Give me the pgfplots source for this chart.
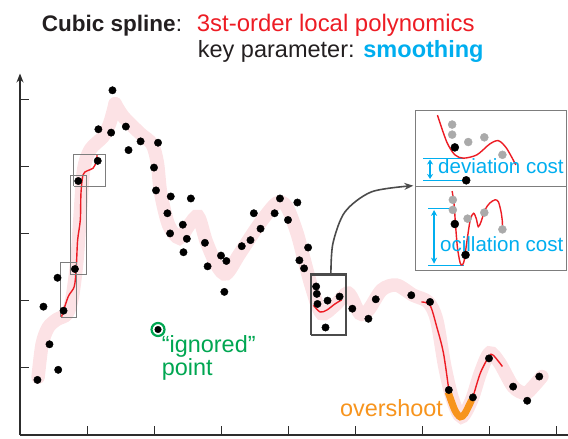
\documentclass[border=0pt]{standalone}
\usepackage{fontspec}
\setmainfont{Liberation Sans}
\usepackage{pgfplots}
\pgfplotsset{compat=1.18}
\usetikzlibrary{arrows.meta}
\definecolor{bandpink}{RGB}{252,226,229}
\definecolor{sred}{RGB}{237,28,36}
\definecolor{scyan}{RGB}{0,174,239}
\definecolor{sorange}{RGB}{247,148,29}
\definecolor{sgreen}{RGB}{0,166,81}
\definecolor{sgray}{RGB}{170,170,170}
\definecolor{axgray}{RGB}{45,45,45}
\definecolor{boxgray}{RGB}{125,125,125}
\definecolor{darkbox}{RGB}{75,75,75}
\definecolor{txtdark}{RGB}{35,31,32}
\begin{document}
\begin{tikzpicture}
\begin{axis}[at={(20bp,4bp)}, anchor=south west, scale only axis,
  width=548.06bp, height=361.5bp,
  xmin=0, xmax=8.18, ymin=0, ymax=5.38,
  axis x line=bottom, axis y line=left,
  axis line style={axgray, line width=1.2bp},
  x axis line style={-},
  y axis line style={-{Stealth[length=9bp,width=7bp]}},
  xtick={1,...,8}, ytick={1,...,5},
  xticklabels={}, yticklabels={},
  tick align=inside, major tick length=8.5bp,
  tick style={axgray, line width=1bp},
  clip=false]
% pink smoothing band (two smooth pieces meeting at the peak)
\addplot[bandpink, line width=13.5bp, smooth, tension=0.5, line cap=round] coordinates {
(0.27,0.86) (0.33,1.35) (0.42,1.60) (0.55,1.72) (0.70,1.80) (0.78,2.05) (0.85,2.60)
(0.90,3.30) (0.95,3.95) (1.05,4.25) (1.24,4.44) (1.34,4.64) (1.42,4.93)};
\addplot[bandpink, line width=13.5bp, smooth, tension=0.5, line cap=round] coordinates {
(1.42,4.93) (1.54,4.74) (1.79,4.49) (1.97,4.33) (2.05,4.05) (2.10,3.60) (2.22,3.12)
(2.38,2.93) (2.52,3.12)
(2.66,3.25) (2.78,2.88) (2.94,2.52) (3.08,2.40) (3.28,2.70) (3.58,3.15) (3.83,3.45)
(3.98,3.40) (4.13,3.02) (4.23,2.65) (4.35,2.21) (4.50,1.81) (4.70,1.93) (4.90,2.11)
(5.07,1.81) (5.20,1.86) (5.40,2.16) (5.62,2.23) (5.87,2.08) (6.09,1.98) (6.22,1.71)
(6.34,1.02) (6.46,0.52) (6.59,0.27) (6.74,0.52) (6.87,0.92) (7.01,1.22) (7.16,1.07)
(7.36,0.72) (7.54,0.62) (7.66,0.72) (7.79,0.87)};
% left red local fits
\addplot[sred, line width=1.4bp, smooth] coordinates {
(0.62,1.76) (0.72,2.06) (0.81,2.21) (0.84,2.50) (0.86,2.90) (0.90,3.20) (0.91,3.60)
(0.94,3.87) (1.00,3.93) (1.09,3.97) (1.14,4.07) (1.15,4.17)};
% left boxes
\addplot[boxgray, line width=0.9bp] coordinates {(0.61,1.75) (0.84,1.75) (0.84,2.57) (0.61,2.57) (0.61,1.75)};
\addplot[boxgray, line width=0.9bp] coordinates {(0.75,2.39) (0.99,2.39) (0.99,3.86) (0.75,3.86) (0.75,2.39)};
\addplot[boxgray, line width=0.9bp] coordinates {(0.80,3.70) (1.27,3.70) (1.27,4.18) (0.80,4.18) (0.80,3.70)};
% middle red fit and dark box
\addplot[sred, line width=1.4bp, smooth] coordinates {
(4.38,1.93) (4.48,1.83) (4.58,1.86) (4.70,1.95) (4.80,2.01)};
\addplot[darkbox, line width=2.2bp] coordinates {(4.34,1.49) (4.86,1.49) (4.86,2.39) (4.34,2.39) (4.34,1.49)};
% right red fit
\addplot[sred, line width=1.4bp, smooth] coordinates {
(5.99,1.98) (6.12,1.93) (6.22,1.61) (6.32,1.22) (6.40,0.67)};
\addplot[sred, line width=1.4bp, smooth] coordinates {
(6.76,0.56) (6.87,0.92) (7.00,1.17) (7.06,1.19) (7.20,1.02)};
% overshoot
\addplot[sorange, line width=7bp, smooth] coordinates {
(6.39,0.64) (6.49,0.37) (6.57,0.27) (6.64,0.32) (6.74,0.52)};
% data points
\addplot[only marks, mark=*, mark size=3.7bp, black] coordinates {
(0.26,0.82) (0.35,1.91) (0.44,1.35) (0.56,2.34) (0.57,0.97) (0.65,1.85) (0.82,2.47)
(0.87,3.78) (1.16,4.08) (1.17,4.55) (1.36,4.50) (1.38,5.13) (1.58,4.59) (1.62,4.24)
(1.80,4.37) (2.06,4.35) (2.00,3.98) (2.03,3.64) (2.25,3.55) (2.55,3.52) (2.20,3.30)
(2.43,3.13) (2.24,3.00) (2.49,2.92) (2.44,2.72) (2.76,2.86) (2.80,2.51) (3.00,2.67)
(3.08,2.59) (3.05,2.13) (3.31,2.81) (3.44,2.90) (3.49,3.30) (3.59,3.07) (3.80,3.30)
(3.88,3.52) (4.00,3.20) (4.14,3.46) (4.17,2.60) (4.30,2.79) (4.24,2.48) (4.42,2.21)
(4.43,2.10) (4.44,1.95) (4.59,2.00) (4.77,2.06) (4.56,1.60) (4.96,1.88) (5.20,1.73)
(5.31,2.02) (5.84,2.08) (6.12,1.98) (6.40,0.67) (6.76,0.56) (7.00,1.14) (7.36,0.72)
(7.57,0.51) (7.75,0.87)};
% ignored point
\addplot[only marks, mark=*, mark size=3.3bp, black] coordinates {(2.06,1.57)};
\addplot[only marks, mark=o, mark size=6.5bp, sgreen, mark options={line width=2.2bp}] coordinates {(2.06,1.57)};
% curved arrow to inset
\addplot[darkbox, line width=1.6bp, smooth, -{Stealth[length=9bp,width=7bp]}] coordinates {
(4.64,2.39) (4.67,2.85) (4.85,3.32) (5.25,3.62) (5.87,3.71)};
% inset frame
\addplot[boxgray, line width=1bp, fill=white] coordinates {(5.906,4.836) (8.164,4.836) (8.164,2.455) (5.906,2.455) (5.906,4.836)};
\addplot[boxgray, line width=1bp] coordinates {(5.906,3.705) (8.164,3.705)};
% top inset
\addplot[scyan, line width=0.8bp] coordinates {(6.02,4.12) (6.62,4.12)};
\addplot[scyan, line width=0.8bp] coordinates {(6.02,3.79) (6.64,3.79)};
\addplot[scyan, line width=1.8bp, {Stealth[length=5bp,width=6bp]}-{Stealth[length=5bp,width=6bp]}] coordinates {(6.12,3.81) (6.12,4.10)};
\addplot[sred, line width=1.4bp, smooth] coordinates {
(6.23,4.76) (6.37,4.36) (6.49,4.17) (6.62,4.12) (6.82,4.17) (7.01,4.33) (7.14,4.38)
(7.26,4.27) (7.40,4.02)};
\addplot[only marks, mark=*, mark size=4bp, sgray] coordinates {
(6.45,4.62) (6.45,4.47) (6.69,4.36) (6.93,4.43) (7.20,4.17)};
\addplot[only marks, mark=*, mark size=4bp, black] coordinates {(6.49,4.28) (6.66,3.79)};
% bottom inset
\addplot[scyan, line width=0.8bp] coordinates {(6.09,3.37) (6.50,3.37)};
\addplot[scyan, line width=0.8bp] coordinates {(6.09,2.53) (6.62,2.53)};
\addplot[scyan, line width=1.8bp, {Stealth[length=6bp,width=6bp]}-{Stealth[length=6bp,width=6bp]}] coordinates {(6.18,2.55) (6.18,3.35)};
\addplot[sred, line width=1.4bp, smooth] coordinates {
(6.45,3.63) (6.48,3.42) (6.50,3.13) (6.53,2.78) (6.57,2.56) (6.60,2.53) (6.63,2.60)
(6.67,2.88) (6.72,3.20) (6.77,3.30) (6.81,3.22) (6.84,3.10) (6.88,3.17) (6.94,3.35)
(7.01,3.45) (7.09,3.50) (7.14,3.47) (7.18,3.32) (7.20,3.17) (7.20,3.08)};
\addplot[only marks, mark=*, mark size=4bp, sgray] coordinates {
(6.46,3.50) (6.46,3.35) (6.68,3.22) (6.93,3.31) (7.20,3.06)};
\addplot[only marks, mark=*, mark size=4bp, black] coordinates {(6.49,3.14) (6.65,2.68)};
\end{axis}
% texts (picture coordinates, bp from bottom-left)
\node[anchor=base west, inner sep=0, font=\fontsize{22.6}{22.6}\selectfont, text=txtdark] at (41.7bp,407.3bp) {\textbf{Cubic spline}:};
\node[anchor=base west, inner sep=0, font=\fontsize{24}{24}\selectfont, text=sred] at (196.7bp,407.3bp) {3st-order local polynomics};
\node[anchor=base west, inner sep=0, font=\fontsize{23.6}{23.6}\selectfont, text=txtdark] at (197.7bp,381.7bp) {key parameter: \textcolor{scyan}{\textbf{smoothing}}};
\node[anchor=south west, inner sep=0, align=left, font=\fontsize{23.5}{17}\selectfont, text=sgreen] at (161.7bp,58.5bp) {“ignored”\\point};
\node[anchor=base west, inner sep=0, font=\fontsize{23.5}{23.5}\selectfont, text=sorange] at (340bp,22.3bp) {overshoot};
\node[anchor=base west, inner sep=0, font=\fontsize{20.6}{20.6}\selectfont, text=scyan] at (438bp,265.7bp) {deviation cost};
\node[anchor=base west, inner sep=0, font=\fontsize{20.6}{20.6}\selectfont, text=scyan] at (440bp,187.3bp) {ocillation cost};
\pgfresetboundingbox
\path[use as bounding box] (0,0) rectangle (568bp,439bp);
\end{tikzpicture}
\end{document}
